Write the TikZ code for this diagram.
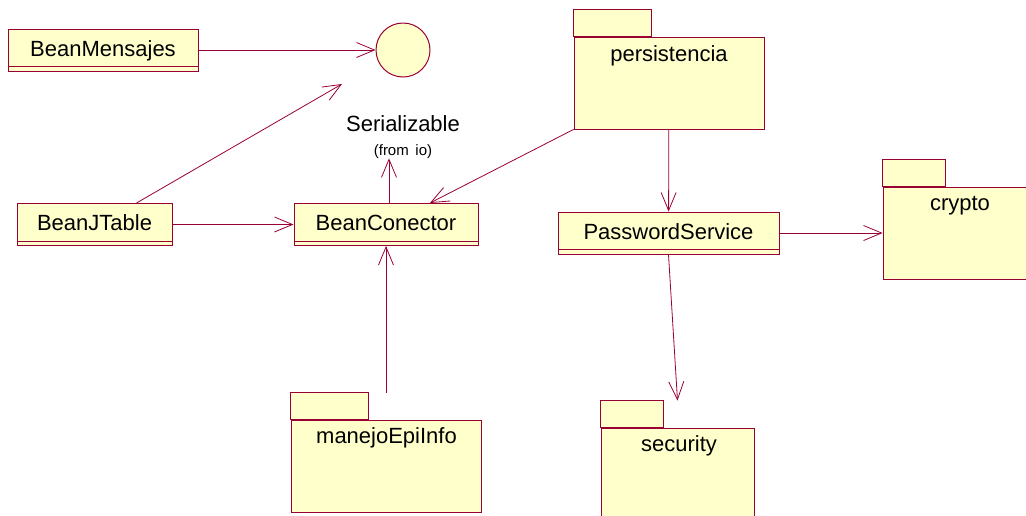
\documentclass[tikz,border=0pt]{standalone}
\usepackage{fontspec}
\setmainfont{Liberation Sans}
\usetikzlibrary{arrows.meta}

\definecolor{borde}{RGB}{153,0,51}
\definecolor{fondo}{RGB}{255,255,204}

\begin{document}
\begin{tikzpicture}[x=1pt,y=-1pt,
  clase/.style={draw=borde,fill=fondo,line width=1pt,minimum height=42pt,inner sep=0pt,
    text height=16pt,text depth=4pt,font=\fontsize{22}{26}\selectfont},
  paquete/.style={draw=borde,fill=fondo,line width=0.8pt},
  nombre/.style={font=\fontsize{22}{26}\selectfont,inner sep=0pt,anchor=base},
  flecha/.style={draw=borde,line width=0.8pt,-{Straight Barb[length=18pt,width=15pt]}}]
\clip (0,0) rectangle (1026,515);

% Classes
\node[clase,minimum width=190pt] (mensajes) at (103,50) {BeanMensajes};
\node[clase,minimum width=155pt] (jtable) at (94.5,224.5) {BeanJTable};
\node[clase,minimum width=184pt] (conector) at (386,224.5) {BeanConector};
\node[clase,minimum width=221pt] (password) at (668.5,233) {PasswordService};
\foreach \c in {mensajes,jtable,conector,password}{
  \draw[borde,line width=1pt] ([yshift=5pt]\c.south west) -- ([yshift=5pt]\c.south east);
}

% Interface
\node[circle,draw=borde,fill=fondo,line width=1pt,minimum size=54pt,inner sep=0pt] (serial) at (403,50) {};
\node[nombre] (serialtxt) at (403,131) {Serializable};
\node[nombre,font=\fontsize{15}{17}\selectfont] (desde) at (403,155) {(from\, io)};
\coordinate (serialpie) at (342,84);

% Packages
\node[paquete,minimum width=190pt,minimum height=92pt] (pers) at (669,83) {};
\draw[paquete] (pers.north west) rectangle ++(78,-27);
\node[nombre] (perstxt) at (669,61) {persistencia};

\node[paquete,minimum width=167pt,minimum height=92pt] (crypto) at (966.5,233) {};
\draw[paquete] (crypto.north west) rectangle ++(63,-27);
\node[nombre] (cryptotxt) at (960,210) {crypto};

\node[paquete,minimum width=153pt,minimum height=102pt] (sec) at (677.5,479) {};
\draw[paquete] (sec.north west) rectangle ++(63,-27);
\node[nombre] (sectxt) at (679,451) {security};

\node[paquete,minimum width=190pt,minimum height=92pt] (manejo) at (386,466) {};
\draw[paquete] (manejo.north west) rectangle ++(78,-27);
\node[nombre] (manejotxt) at (386.5,443) {manejoEpiInfo};

% Dependencies
\draw[flecha] (mensajes.east) -- (serial.west);
\draw[flecha] ([xshift=42pt]jtable.north) -- (serialpie);
\draw[flecha] (jtable) -- (conector);
\draw[flecha] ([xshift=3pt]conector.north) -- ([xshift=3pt]conector.north |- desde.south);
\draw[flecha] (pers.south west) -- ([xshift=44pt]conector.north);
\draw[flecha] (pers) -- (password);
\draw[flecha] (password) -- (crypto);
\draw[flecha] (password.south) -- ([yshift=27pt]sec.north);
\draw[flecha] ([yshift=27pt]manejo.north) -- (conector.south);

\end{tikzpicture}
\end{document}
